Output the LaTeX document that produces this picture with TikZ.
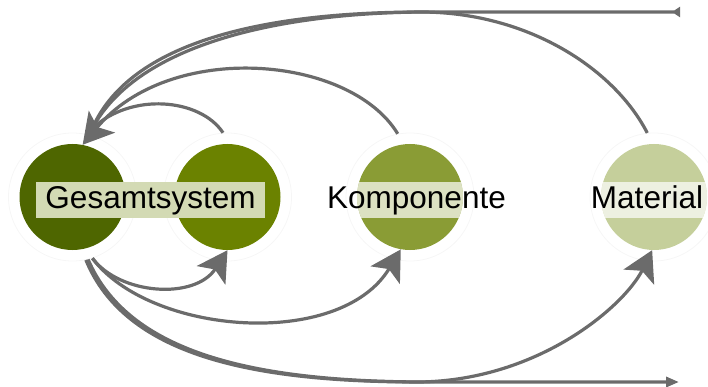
\documentclass[tikz,border=0pt]{standalone}
\usepackage{fontspec}
\setmainfont{Liberation Sans}
\usetikzlibrary{arrows.meta}
\definecolor{cA}{HTML}{4E6600}
\definecolor{cB}{HTML}{6B8200}
\definecolor{cC}{HTML}{8A9C35}
\definecolor{cD}{HTML}{C5CF9B}
\definecolor{bandA}{HTML}{D3DAB4}
\definecolor{arr}{HTML}{6B6B6B}
\definecolor{ringc}{HTML}{F6F6F6}
\tikzset{
  ball/.style={circle, minimum size=106pt, inner sep=0pt},
  ringnode/.style={circle, draw=ringc, line width=0.8pt, minimum size=128pt, inner sep=0pt},
  lab/.style={font=\fontsize{31.5}{38}\selectfont, inner sep=0pt, text height=23pt, text depth=7pt},
  conn/.style={draw=arr, line width=3.2pt},
  big/.style={-{Stealth[length=30pt,width=34pt,inset=7pt]}},
  band/.style={fill=white, fill opacity=0.7}
}
\begin{document}
\begin{tikzpicture}[x=1pt,y=-1pt]
\useasboundingbox (0,0) rectangle (708,387);
% faint rings
\node[ringnode] (r1) at (72.5,197) {};
\node[ringnode] (r2) at (227.5,197) {};
\node[ringnode] (r3) at (410,197) {};
\node[ringnode] (r4) at (654,197) {};
% circles
\node[ball, fill=cA] (c1) at (72.5,197) {};
\node[ball, fill=cB] (c2) at (227.5,197) {};
\node[ball, fill=cC] (c3) at (410,197) {};
\node[ball, fill=cD] (c4) at (654,197) {};
% bands inside circles
\begin{scope}
  \clip (c3) circle[radius=53pt];
  \fill[band] (350,182) rectangle (470,218);
\end{scope}
\begin{scope}
  \clip (c4) circle[radius=53pt];
  \fill[band] (595,182) rectangle (712,218);
\end{scope}
% labels
\node[lab, fill=bandA, inner xsep=9pt, inner ysep=3pt] (l1) at (150.5,200) {Gesamtsystem};
\node[lab] (l3) at (416.5,200) {Komponente};
\node[lab] (l4) at (647,200) {Material};
% coordinates
\coordinate (T) at (680,12);
\coordinate (M1) at (423,12);
\coordinate (H) at (92,129);
\coordinate (B) at (679,382);
\coordinate (M2) at (420,382);
% top connectors
\draw[conn, {Triangle[reversed,length=8pt,width=10pt]}-] (T) -- (M1) .. controls (280,12) and (132,36) .. (H);
\draw[conn] (r4.96) .. controls (615,70) and (530,13) .. (M1) .. controls (285,13) and (138,42) .. (H);
\draw[conn, big] (r3.101) .. controls (350,55) and (170,40) .. (c1.79);
\draw[conn] (r2.94) .. controls (200,98) and (130,92) .. (H);
% bottom connectors
\draw[conn, big] (r1.288) .. controls (120,295) and (195,300) .. (c2.270);
\draw[conn, big] (r1.288) .. controls (150,335) and (340,350) .. (c3.260);
\draw[conn, -{Triangle[length=13pt,width=10pt]}] (r1.282) .. controls (125,355) and (250,382) .. (M2) -- (B);
\draw[conn, big] (r1.284) .. controls (128,352) and (250,381) .. (M2) .. controls (540,380) and (625,305) .. (c4.268);
\end{tikzpicture}
\end{document}
